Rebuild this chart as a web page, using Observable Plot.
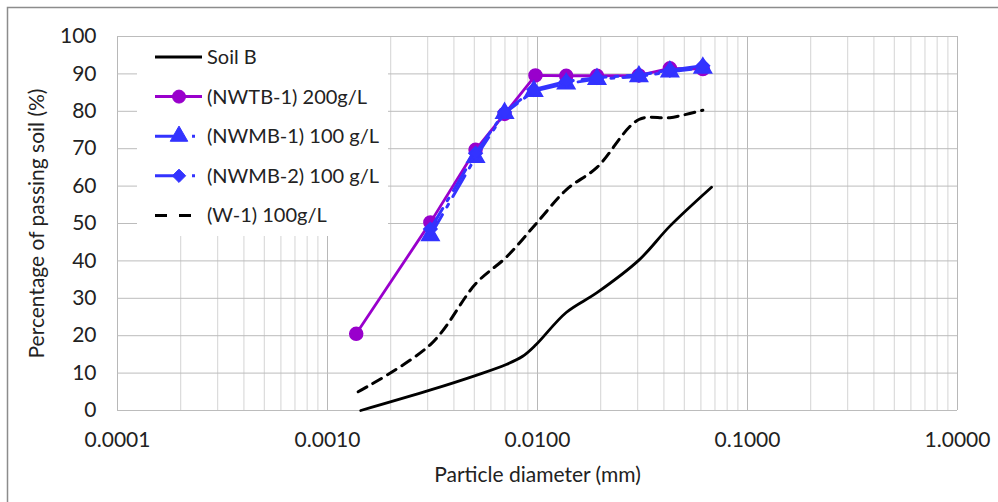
<!DOCTYPE html>
<html>
<head>
<meta charset="utf-8">
<script src="https://cdn.jsdelivr.net/npm/d3@7"></script>
<script src="https://cdn.jsdelivr.net/npm/@observablehq/plot@0.6"></script>
<style>
  html, body { margin: 0; padding: 0; background: #fff; }
  #chart { width: 998px; height: 502px; }
</style>
</head>
<body>
<div id="chart"></div>
<script>
// ---- Data ----
const xTickValues = [0.0001, 0.001, 0.01, 0.1, 1];
const yTickValues = [0, 10, 20, 30, 40, 50, 60, 70, 80, 90, 100];

const seriesNames = ["Soil B", "(NWTB-1) 200g/L", "(NWMB-1) 100 g/L", "(NWMB-2) 100 g/L", "(W-1) 100g/L"];

const soilB_d = [0.00144, 0.0031, 0.0051, 0.0071, 0.0085, 0.0098, 0.0137, 0.0192, 0.0304, 0.0427, 0.0674];
const soilB_p = [0, 5.5, 9.4, 12.3, 14.5, 17.5, 26.2, 31.5, 40.2, 49.3, 59.7];

const nwtb1_d = [0.00137, 0.00309, 0.00507, 0.00697, 0.00978, 0.0137, 0.0192, 0.0304, 0.0427, 0.0613];
const nwtb1_p = [20.5, 50.3, 69.7, 79.3, 89.6, 89.5, 89.5, 89.6, 91.5, 91.3];

const nwmb1_d = [0.00309, 0.00507, 0.00697, 0.0096, 0.0137, 0.0192, 0.0304, 0.0427, 0.0613];
const nwmb1_p = [46.8, 67.7, 79.5, 85.4, 87.4, 88.6, 89.3, 90.6, 91.6];

const nwmb2_d = [0.00309, 0.00507, 0.00697, 0.0096, 0.0137, 0.0192, 0.0304, 0.0427, 0.0613];
const nwmb2_p = [48.5, 68.8, 79.8, 85.8, 88.0, 89.0, 89.7, 91.0, 92.2];

const w1_d = [0.0014, 0.0031, 0.0051, 0.0071, 0.0098, 0.0137, 0.0192, 0.0304, 0.0427, 0.0613];
const w1_p = [5.0, 17.7, 34.0, 41.0, 49.8, 59.0, 65.0, 77.8, 78.3, 80.3];

// ---- Build tables ----
const toRows = (ds, ps) => ds.map((d, i) => ({d, p: ps[i]}));
const soilB = toRows(soilB_d, soilB_p);
const nwtb1 = toRows(nwtb1_d, nwtb1_p);
const nwmb1 = toRows(nwmb1_d, nwmb1_p);
const nwmb2 = toRows(nwmb2_d, nwmb2_p);
const w1 = toRows(w1_d, w1_p);

const PURPLE = "#9900cc";
const BLUE = "#3333ff";
const FONT = "Lato, 'Noto Sans', sans-serif";
const TEXT = "#222";
const dashDot = "24 9 3 9";
const dashed = "10 7";

const minorTicks = d3.scaleLog().domain([1e-4, 1]).ticks();

const chart = Plot.plot({
  width: 998,
  height: 502,
  marginLeft: 117,
  marginRight: 41,
  marginTop: 36,
  marginBottom: 92,
  style: {fontFamily: FONT, fontSize: "21px", color: TEXT, background: "white"},
  x: {type: "log", domain: [0.0001, 1], label: null},
  y: {domain: [0, 100], label: null},
  marks: [
    Plot.ruleX(minorTicks, {stroke: "#d4d4d4", strokeWidth: 1}),
    Plot.ruleX(xTickValues, {stroke: "#b8b8b8", strokeWidth: 1}),
    Plot.ruleY(yTickValues, {stroke: "#bcbcbc", strokeWidth: 1}),
    Plot.axisX(xTickValues, {tickSize: 0, tickPadding: 22, tickFormat: d3.format(".4f"), label: null, fill: TEXT, fontSize: 21}),
    Plot.axisY(yTickValues, {tickSize: 0, tickPadding: 21, label: null, fill: TEXT, fontSize: 21}),
    Plot.text(["Particle diameter (mm)"], {frameAnchor: "bottom", dy: 71, fontSize: 21, fill: TEXT}),
    Plot.text(["Percentage of passing soil (%)"], {frameAnchor: "left", dx: -80, rotate: -90, textAnchor: "middle", fontSize: 21, fill: TEXT}),
    // Soil B
    Plot.line(soilB, {x: "d", y: "p", stroke: "black", strokeWidth: 2.8, curve: "catmull-rom"}),
    // NWTB-1
    Plot.line(nwtb1, {x: "d", y: "p", stroke: PURPLE, strokeWidth: 2.8}),
    Plot.dot(nwtb1, {x: "d", y: "p", symbol: "circle", r: 6.5, fill: PURPLE, stroke: PURPLE}),
    // NWMB-1
    Plot.line(nwmb1, {x: "d", y: "p", stroke: BLUE, strokeWidth: 3, strokeDasharray: dashDot}),
    Plot.dot(nwmb1, {x: "d", y: "p", symbol: "triangle", r: 6.5, fill: BLUE, stroke: BLUE}),
    // NWMB-2
    Plot.line(nwmb2, {x: "d", y: "p", stroke: BLUE, strokeWidth: 3, strokeDasharray: dashDot}),
    Plot.dot(nwmb2, {x: "d", y: "p", symbol: "diamond2", r: 6, fill: BLUE, stroke: BLUE}),
    // W-1
    Plot.line(w1, {x: "d", y: "p", stroke: "black", strokeWidth: 3, strokeDasharray: dashed, curve: "catmull-rom"})
  ]
});

document.getElementById("chart").appendChild(chart);

// ---- Legend and chart-area border ----
const svg = d3.select(chart);
svg.append("rect")
  .attr("x", 7.5).attr("y", 7.5).attr("width", 1100).attr("height", 700)
  .attr("fill", "none").attr("stroke", "#8c8c8c").attr("stroke-width", 1.5);

const leg = svg.append("g").attr("transform", "translate(137,37)");
leg.append("rect").attr("width", 251).attr("height", 199).attr("fill", "white");

const legendItems = [
  {name: seriesNames[0], stroke: "black", dash: null, symbol: null},
  {name: seriesNames[1], stroke: PURPLE, dash: null, symbol: d3.symbolCircle, r: 6.5},
  {name: seriesNames[2], stroke: BLUE, dash: "24 13 3 30", symbol: d3.symbolTriangle, r: 6.5},
  {name: seriesNames[3], stroke: BLUE, dash: "24 13 3 30", symbol: d3.symbolDiamond2, r: 6},
  {name: seriesNames[4], stroke: "black", dash: "12 12", symbol: null}
];
legendItems.forEach((it, i) => {
  const cy = 20 + i * 39.6;
  const g = leg.append("g").attr("transform", `translate(0,${cy})`);
  g.append("line").attr("x1", 18).attr("x2", 65).attr("y1", 0).attr("y2", 0)
    .attr("stroke", it.stroke).attr("stroke-width", 3)
    .attr("stroke-dasharray", it.dash);
  if (it.symbol) {
    g.append("path").attr("transform", "translate(42,0)")
      .attr("d", d3.symbol(it.symbol, Math.PI * it.r * it.r)())
      .attr("fill", it.stroke).attr("stroke", it.stroke);
  }
  g.append("text").attr("x", 70).attr("y", 0).attr("dy", "0.35em")
    .attr("text-anchor", "start")
    .attr("font-family", FONT).attr("font-size", 20).attr("fill", TEXT)
    .text(it.name);
});
</script>
</body>
</html>
